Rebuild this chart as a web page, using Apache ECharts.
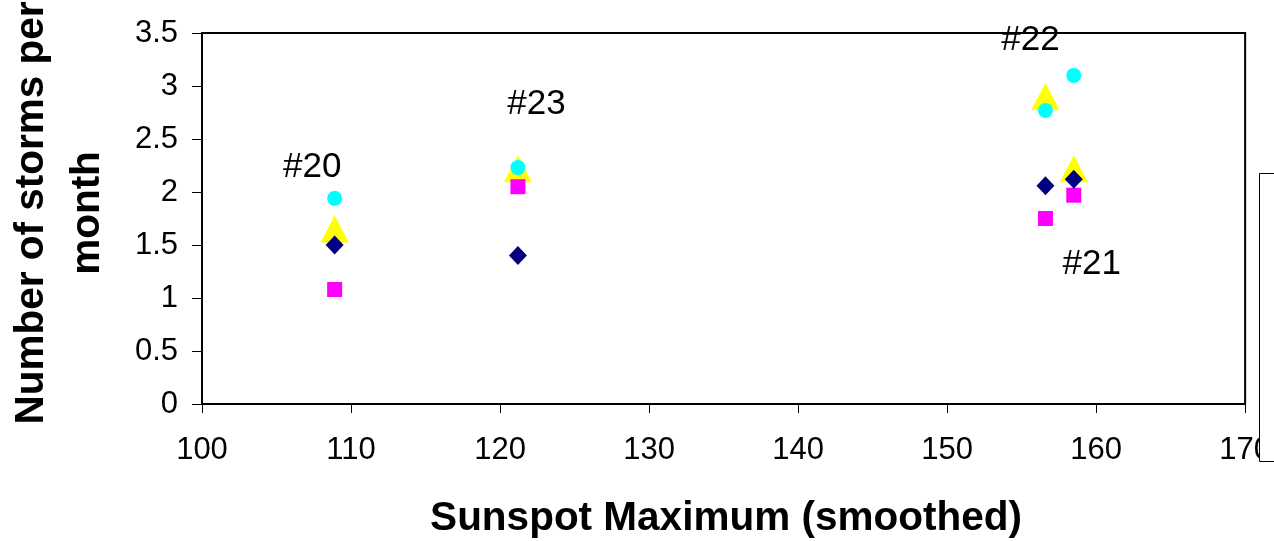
<!DOCTYPE html>
<html>
<head>
<meta charset="utf-8">
<script src="https://cdn.jsdelivr.net/npm/echarts@6/dist/echarts.min.js"></script>
<style>
  html, body { margin: 0; padding: 0; background: #fff; }
  #chart { width: 1274px; height: 541px; }
</style>
</head>
<body>
<div id="chart"></div>
<script>
// Smoothed sunspot maximum of each solar cycle (x) and storms per month (y)
const sunspotMax = [108.9, 121.2, 156.6, 158.5];
const circleVals = [1.94, 2.23, 2.77, 3.10];
const triangleVals = [1.65, 2.22, 2.90, 2.22];
const diamondVals = [1.50, 1.40, 2.06, 2.12];
const squareVals = [1.08, 2.05, 1.75, 1.97];

// Cycle annotations, placed in data coordinates
const cycleLabels = ['#20', '#23', '#22', '#21'];
const cycleLabelX = [107.4, 122.45, 155.6, 159.7];
const cycleLabelY = [2.23, 2.83, 3.43, 1.32];

const xTicks = { min: 100, max: 170, interval: 10 };
const yTicks = { min: 0, max: 3.5, interval: 0.5 };

const FONT = '"Liberation Sans", Arial, Helvetica, sans-serif';

function pairs(xs, ys) { return xs.map((x, i) => [x, ys[i]]); }

function markerSeries(name, symbol, size, color, ys) {
  return {
    name: name,
    type: 'scatter',
    symbol: symbol,
    symbolSize: size,
    itemStyle: { color: color, opacity: 1 },
    data: pairs(sunspotMax, ys),
    z: 3
  };
}

const chart = echarts.init(document.getElementById('chart'), null, { renderer: 'canvas' });

chart.setOption({
  animation: false,
  backgroundColor: '#fff',
  grid: {
    left: 202, right: 25, top: 33, bottom: 137,
    show: true, borderColor: '#000', borderWidth: 2, backgroundColor: 'transparent'
  },
  xAxis: {
    type: 'value',
    min: xTicks.min, max: xTicks.max, interval: xTicks.interval,
    axisLine: { show: true, lineStyle: { color: '#000', width: 2 } },
    axisTick: { show: true, inside: false, length: 9, lineStyle: { color: '#000', width: 1 } },
    axisLabel: { color: '#000', fontFamily: FONT, fontSize: 31, margin: 31 },
    splitLine: { show: false }
  },
  yAxis: {
    type: 'value',
    min: yTicks.min, max: yTicks.max, interval: yTicks.interval,
    axisLine: { show: true, lineStyle: { color: '#000', width: 2 } },
    axisTick: { show: true, inside: false, length: 10, lineStyle: { color: '#000', width: 1 } },
    axisLabel: { color: '#000', fontFamily: FONT, fontSize: 31, margin: 24 },
    splitLine: { show: false }
  },
  series: [
    markerSeries('Triangle', 'triangle', [28, 27], '#FFFF00', triangleVals),
    markerSeries('Square', 'rect', 15, '#FF00FF', squareVals),
    markerSeries('Diamond', 'diamond', [18, 19], '#000080', diamondVals),
    markerSeries('Circle', 'circle', 15, '#00FFFF', circleVals),
    {
      name: 'Cycles',
      type: 'custom',
      coordinateSystem: 'cartesian2d',
      data: cycleLabelX.map((x, i) => [x, cycleLabelY[i], i]),
      renderItem: function (params, api) {
        const pt = api.coord([api.value(0), api.value(1)]);
        return {
          type: 'text',
          x: pt[0], y: pt[1],
          style: {
            text: cycleLabels[api.value(2)],
            fill: '#000',
            fontFamily: FONT,
            fontSize: 35,
            align: 'center',
            verticalAlign: 'middle'
          }
        };
      },
      clip: false,
      z: 5
    }
  ],
  graphic: [
    {
      type: 'text',
      x: 726, y: 519,
      style: {
        text: 'Sunspot Maximum (smoothed)',
        fontFamily: FONT, fontWeight: 'bold', fontSize: 40.5,
        fill: '#000', align: 'center', verticalAlign: 'middle'
      }
    },
    {
      type: 'text',
      x: 60, y: 213,
      rotation: Math.PI / 2,
      style: {
        text: 'Number of storms per\nmonth',
        fontFamily: FONT, fontWeight: 'bold', fontSize: 40.5,
        lineHeight: 56,
        fill: '#000', align: 'center', verticalAlign: 'middle'
      }
    },
    {
      type: 'rect',
      z: 100,
      shape: { x: 1259.5, y: 173.5, width: 120, height: 288 },
      style: { fill: '#fff', stroke: '#000', lineWidth: 1 }
    }
  ]
});
</script>
</body>
</html>
